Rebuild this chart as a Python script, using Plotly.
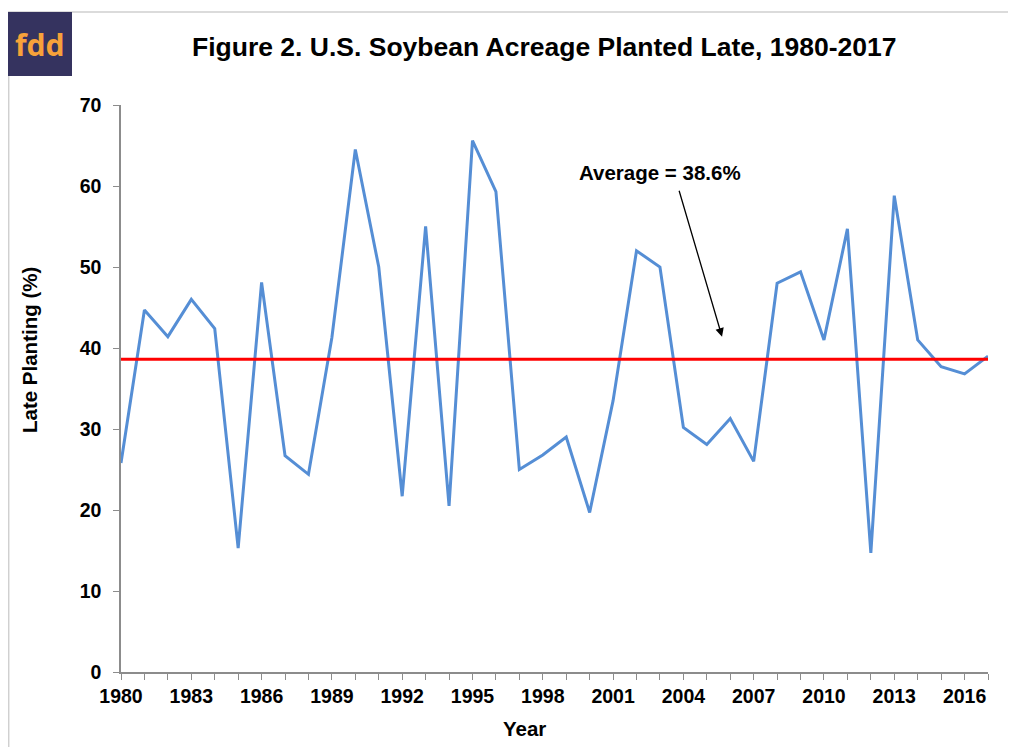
import plotly.graph_objects as go

years = list(range(1980, 2018))
late_planting = [25.8, 44.7, 41.4, 46.0, 42.4, 15.3, 48.1, 26.7, 24.4, 41.3,
                 64.5, 50.0, 21.7, 55.0, 20.5, 65.6, 59.3, 25.0, 26.8, 29.0,
                 19.7, 33.5, 52.0, 50.0, 30.2, 28.1, 31.3, 26.0, 48.0, 49.4,
                 41.0, 54.7, 14.7, 58.8, 41.0, 37.7, 36.8, 39.0]
average_value = 38.6
tick_labels = [str(y) if (y - 1980) % 3 == 0 else "" for y in years]
y_ticks = [0, 10, 20, 30, 40, 50, 60, 70]

# page offset of the figure div (default body margin)
OFF = 8
W, H = 1008, 739
L, R, T, B = 121 - OFF, 988 - OFF, 105 - OFF, 672 - OFF
pw, ph = R - L, B - T

def px(x):  # page pixel -> paper
    return (x - OFF - L) / pw

def py(y):
    return (B - (y - OFF)) / ph

FONT = "Liberation Sans, Arial, sans-serif"

fig = go.Figure()
fig.add_trace(go.Scatter(x=years, y=late_planting, mode="lines",
                         line=dict(color="#558ED5", width=3), showlegend=False))
fig.add_trace(go.Scatter(x=[years[0], years[-1]], y=[average_value, average_value],
                         mode="lines", line=dict(color="#FF0000", width=3),
                         showlegend=False))

fig.update_layout(
    width=W, height=H,
    margin=dict(l=L, r=W - R, t=T, b=H - B, pad=0),
    paper_bgcolor="white", plot_bgcolor="white",
    font=dict(family=FONT, color="black", size=18),
    xaxis=dict(range=[1980, 2017], tickmode="array", tickvals=years, ticktext=tick_labels,
               showline=True, linecolor="#8c8c8c", linewidth=1.5,
               ticks="outside", ticklen=6, tickcolor="#8c8c8c", tickwidth=1.2,
               showgrid=False, zeroline=False,
               tickfont=dict(family=FONT, size=19.5, color="black", weight="bold"),
               tickangle=0),
    yaxis=dict(range=[0, 70], tickmode="array", tickvals=y_ticks,
               showline=True, linecolor="#8c8c8c", linewidth=1.5,
               ticks="outside", ticklen=6, tickcolor="#8c8c8c", tickwidth=1.2,
               showgrid=False, zeroline=False, ticklabelstandoff=8,
               tickfont=dict(family=FONT, size=19.5, color="black", weight="bold")),
)

# chart-area border
fig.add_shape(type="rect", xref="paper", yref="paper",
              x0=px(8.7), x1=px(1030), y0=py(760), y1=py(12),
              line=dict(color="#d0d0d0", width=1.5), fillcolor="rgba(0,0,0,0)", layer="below")
# logo
fig.add_shape(type="rect", xref="paper", yref="paper",
              x0=px(8), x1=px(72), y0=py(76), y1=py(12),
              line=dict(width=0), fillcolor="#35335F")
fig.add_annotation(xref="paper", yref="paper", x=px(39.5), y=py(44), text="<b>fdd</b>",
                   showarrow=False, font=dict(family="Noto Sans, sans-serif", size=30, color="#F7A23A"),
                   xanchor="center", yanchor="middle")

# title
fig.add_annotation(xref="paper", yref="paper", x=px(544), y=py(47),
                   text="<b>Figure 2. U.S. Soybean Acreage Planted Late, 1980-2017</b>",
                   showarrow=False, font=dict(family=FONT, size=26.5, color="black"),
                   xanchor="center", yanchor="middle")
# axis titles
fig.add_annotation(xref="paper", yref="paper", x=px(29), y=py(350),
                   text="<b>Late Planting (%)</b>", textangle=-90, showarrow=False,
                   font=dict(family=FONT, size=20.5, color="black"),
                   xanchor="center", yanchor="middle")
fig.add_annotation(xref="paper", yref="paper", x=px(524), y=py(728),
                   text="<b>Year</b>", showarrow=False,
                   font=dict(family=FONT, size=20.5, color="black"),
                   xanchor="center", yanchor="middle")

# average label and arrow
fig.add_annotation(x=2003.0, y=61.7, text="<b>Average = 38.6%</b>", showarrow=False,
                   font=dict(family=FONT, size=20.5, color="black"),
                   xanchor="center", yanchor="middle")
fig.add_annotation(x=2005.65, y=41.4, ax=2003.8, ay=59.6, axref="x", ayref="y",
                   text="", showarrow=True, arrowhead=2, arrowsize=1.3, arrowwidth=1.3,
                   arrowcolor="black")

fig.write_html("out.html")
